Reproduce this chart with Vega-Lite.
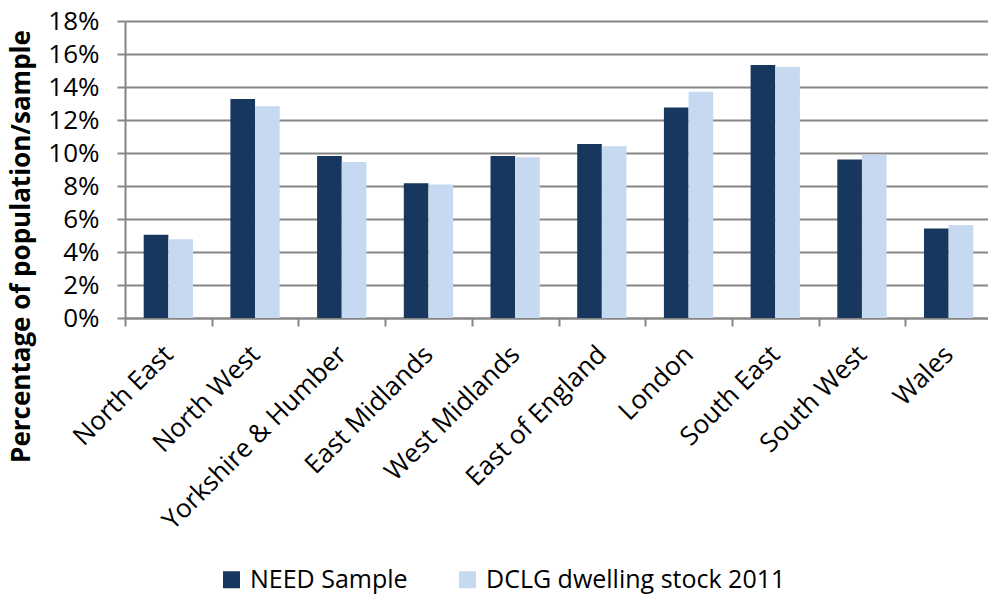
{
  "$schema": "https://vega.github.io/schema/vega-lite/v6.json",
  "width": 863,
  "height": 297,
  "autosize": "none",
  "padding": {"left": 125, "top": 21, "right": 0, "bottom": 277},
  "background": "white",
  "config": {"view": {"stroke": null}, "font": "Open Sans"},
  "data": {
    "values": [
      {"region": "North East", "series": "NEED Sample", "share": 0.0505},
      {"region": "North East", "series": "DCLG dwelling stock 2011", "share": 0.0477},
      {"region": "North West", "series": "NEED Sample", "share": 0.1327},
      {"region": "North West", "series": "DCLG dwelling stock 2011", "share": 0.1284},
      {"region": "Yorkshire & Humber", "series": "NEED Sample", "share": 0.0982},
      {"region": "Yorkshire & Humber", "series": "DCLG dwelling stock 2011", "share": 0.0945},
      {"region": "East Midlands", "series": "NEED Sample", "share": 0.0817},
      {"region": "East Midlands", "series": "DCLG dwelling stock 2011", "share": 0.0809},
      {"region": "West Midlands", "series": "NEED Sample", "share": 0.0982},
      {"region": "West Midlands", "series": "DCLG dwelling stock 2011", "share": 0.0974},
      {"region": "East of England", "series": "NEED Sample", "share": 0.1055},
      {"region": "East of England", "series": "DCLG dwelling stock 2011", "share": 0.1041},
      {"region": "London", "series": "NEED Sample", "share": 0.1276},
      {"region": "London", "series": "DCLG dwelling stock 2011", "share": 0.1371},
      {"region": "South East", "series": "NEED Sample", "share": 0.1533},
      {"region": "South East", "series": "DCLG dwelling stock 2011", "share": 0.1521},
      {"region": "South West", "series": "NEED Sample", "share": 0.0961},
      {"region": "South West", "series": "DCLG dwelling stock 2011", "share": 0.099},
      {"region": "Wales", "series": "NEED Sample", "share": 0.0542},
      {"region": "Wales", "series": "DCLG dwelling stock 2011", "share": 0.0564}
    ]
  },
  "mark": {"type": "bar"},
  "encoding": {
    "x": {
      "field": "region",
      "type": "nominal",
      "sort": null,
      "scale": {"paddingInner": 0, "paddingOuter": 0, "range": [0, 867]},
      "axis": {
        "title": null,
        "labelAngle": -45,
        "labelAlign": "right",
        "labelBaseline": "middle",
        "labelFontSize": 26,
        "labelColor": "black",
        "labelPadding": 24,
        "labelLimit": 400,
        "tickBand": "extent",
        "ticks": true,
        "tickSize": 8,
        "tickColor": "#868686",
        "tickWidth": 2,
        "domain": true,
        "domainColor": "#868686",
        "domainWidth": 2,
        "grid": false
      }
    },
    "xOffset": {
      "field": "series",
      "type": "nominal",
      "sort": ["NEED Sample", "DCLG dwelling stock 2011"],
      "scale": {"paddingInner": 0, "paddingOuter": 0.759}
    },
    "y": {
      "field": "share",
      "type": "quantitative",
      "scale": {"domain": [0, 0.18], "nice": false},
      "axis": {
        "values": [0, 0.02, 0.04, 0.06, 0.08, 0.1, 0.12, 0.14, 0.16, 0.18],
        "format": ".0%",
        "title": "Percentage of population/sample",
        "titleFontSize": 26,
        "titleFontWeight": "bold",
        "titleColor": "black",
        "titleAngle": -90,
        "titleX": -104,
        "titleY": 225,
        "titleAlign": "center",
        "titleBaseline": "middle",
        "labelFontSize": 26,
        "labelColor": "black",
        "labelPadding": 18,
        "tickSize": 8,
        "tickColor": "#868686",
        "tickWidth": 2,
        "domainColor": "#868686",
        "domainWidth": 2,
        "grid": true,
        "gridColor": "#868686",
        "gridWidth": 2
      }
    },
    "color": {
      "field": "series",
      "type": "nominal",
      "scale": {
        "domain": ["NEED Sample", "DCLG dwelling stock 2011"],
        "range": ["#17375E", "#C6D9F1"]
      },
      "legend": {
        "orient": "none",
        "legendX": 94,
        "legendY": 546,
        "direction": "horizontal",
        "title": null,
        "symbolType": "square",
        "symbolSize": 289,
        "symbolStrokeWidth": 0,
        "labelFontSize": 25,
        "labelColor": "black",
        "labelLimit": 500,
        "labelOffset": 6,
        "columnPadding": 47
      }
    }
  }
}
